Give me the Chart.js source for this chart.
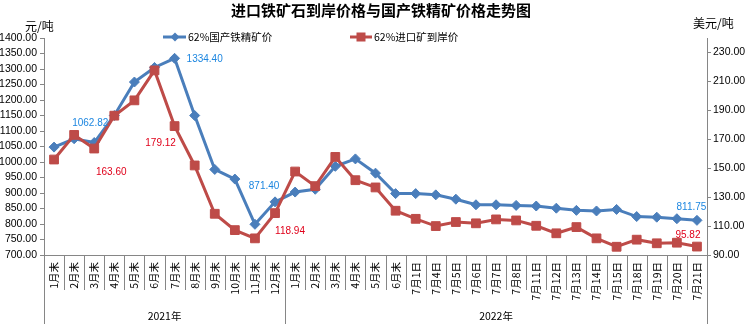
<!DOCTYPE html>
<html><head><meta charset="utf-8">
<script src="https://cdn.jsdelivr.net/npm/chart.js@4"></script>
<style>html,body{margin:0;padding:0;background:#fff}#wrap{width:748px;height:324px;position:relative}</style>
</head><body><div id="wrap"><canvas id="c" width="748" height="324"></canvas></div>
<script>
const categories = ['1月末','2月末','3月末','4月末','5月末','6月末','7月末','8月末','9月末','10月末','11月末','12月末',
  '1月末','2月末','3月末','4月末','5月末','6月末',
  '7月1日','7月4日','7月5日','7月6日','7月7日','7月8日','7月11日','7月12日','7月13日','7月14日','7月15日','7月18日','7月19日','7月20日','7月21日'];
const groupLabels = ['2021年','2022年'];
const groupSizes = [12, 21];
const domestic = [1048,1075,1062.82,1150,1258,1305,1334.40,1150,976,945,799,871.40,
  903,912,986,1010,964,898,
  898,894,880,862,862,860,858,851,844,842,847,824,822,817,811.75];
const imported = [156.0,173.0,163.60,186.3,196.9,217.6,179.12,151.9,118.5,107.2,101.5,118.94,
  147.7,137.6,157.8,141.7,136.7,120.6,
  115.0,110.0,112.8,111.9,114.6,113.9,110.2,105.0,109.3,101.5,95.7,100.6,98.1,98.5,95.82];
const leftTicks = [700,750,800,850,900,950,1000,1050,1100,1150,1200,1250,1300,1350,1400];
const rightTicks = [90,110,130,150,170,190,210,230];
const labelIdx = [2,6,11,32];
const titleText = '进口铁矿石到岸价格与国产铁精矿价格走势图';
const leftUnit = '元/吨';
const rightUnit = '美元/吨';

const BLUE = '#4A7EBB', RED = '#BE4B48', AXIS = '#868686';
const NUMFONT = '"Liberation Sans", Arial, sans-serif';
const CJK = '"Noto Sans CJK SC", sans-serif';

const decor = {
  id: 'decor',
  afterDraw(chart) {
    const ctx = chart.ctx;
    const x = chart.scales.x;
    const area = chart.chartArea;
    const n = categories.length;
    const w = (x.getPixelForValue(1) - x.getPixelForValue(0));
    const groupBounds = [0];
    let acc = 0;
    groupSizes.forEach(s => { acc += s; groupBounds.push(acc); });
    ctx.save();
    ctx.strokeStyle = AXIS; ctx.lineWidth = 1;
    for (let i = 0; i <= n; i++) {
      const bx = Math.round(x.getPixelForValue(0) - w/2 + i*w) + 0.5;
      const isGroup = groupBounds.includes(i);
      ctx.beginPath();
      ctx.moveTo(bx, area.bottom);
      ctx.lineTo(bx, isGroup ? 324 : 290);
      ctx.stroke();
    }
    ctx.fillStyle = '#000';
    ctx.font = '10.5px ' + CJK;
    ctx.textAlign = 'center'; ctx.textBaseline = 'middle';
    for (let g = 0; g < groupLabels.length; g++) {
      const a = x.getPixelForValue(0) - w/2 + groupBounds[g]*w;
      const b = x.getPixelForValue(0) - w/2 + groupBounds[g+1]*w;
      ctx.fillText(groupLabels[g], (a+b)/2, 316);
    }
    ctx.font = 'bold 15px ' + CJK;
    ctx.fillText(titleText, 381, 10);
    ctx.font = '12px ' + CJK;
    ctx.textAlign = 'left';
    ctx.fillText(leftUnit, 25, 26);
    ctx.fillText(rightUnit, 693, 23);
    ctx.lineWidth = 3;
    ctx.strokeStyle = BLUE;
    ctx.beginPath(); ctx.moveTo(163, 37); ctx.lineTo(186, 37); ctx.stroke();
    ctx.fillStyle = BLUE;
    ctx.beginPath(); ctx.moveTo(175, 32.5); ctx.lineTo(179.5, 37); ctx.lineTo(175, 41.5); ctx.lineTo(170.5, 37); ctx.closePath(); ctx.fill();
    ctx.strokeStyle = RED;
    ctx.beginPath(); ctx.moveTo(350, 37); ctx.lineTo(372, 37); ctx.stroke();
    ctx.fillStyle = RED;
    ctx.fillRect(356.5, 32.5, 9, 9);
    ctx.fillStyle = '#000';
    ctx.font = '10.5px ' + CJK;
    ctx.fillText(chart.data.datasets[0].label, 188, 37);
    ctx.fillText(chart.data.datasets[1].label, 374, 37);
    const offs = [
      {ds:0, d:{2:[-4,-19],6:[12,0.5,'left'],11:[-11,-16],32:[-5.5,-13.5]}, color:'#1C86E0'},
      {ds:1, d:{2:[17,24],6:[-14,17],11:[15,18],32:[-9,-11]}, color:'#E0001A'}
    ];
    ctx.font = '10px ' + NUMFONT;
    offs.forEach(o => {
      const meta = chart.getDatasetMeta(o.ds);
      const data = chart.data.datasets[o.ds].data;
      ctx.fillStyle = o.color;
      labelIdx.forEach(i => {
        const p = meta.data[i];
        const off = o.d[i];
        ctx.textAlign = off[2] || 'center';
        ctx.fillText(Number(data[i]).toFixed(2), p.x + off[0], p.y + off[1]);
      });
    });
    ctx.restore();
  }
};

new Chart(document.getElementById('c').getContext('2d'), {
  type: 'line',
  data: {
    labels: categories,
    datasets: [
      {label:'62%国产铁精矿价', data: domestic, yAxisID:'y', order:1,
       borderColor: BLUE, backgroundColor: BLUE, borderWidth: 3, tension: 0,
       pointStyle:'rectRot', pointRadius: 5, pointBorderWidth: 1, pointBorderColor: BLUE, pointBackgroundColor: BLUE},
      {label:'62%进口矿到岸价', data: imported, yAxisID:'y1', order:0,
       borderColor: RED, backgroundColor: RED, borderWidth: 3, tension: 0,
       pointStyle:'rect', pointRadius: 6.2, pointBorderWidth: 1, pointBorderColor: RED, pointBackgroundColor: RED}
    ]
  },
  options: {
    responsive: false, animation: false, devicePixelRatio: 1,
    layout: {padding: {top: 38, left: 0, right: 0, bottom: 0}},
    plugins: {legend: {display: false}, title: {display: false}, tooltip: {enabled: false}},
    scales: {
      x: {
        type: 'category', offset: true,
        grid: {display: false, drawTicks: false},
        border: {display: true, color: AXIS},
        ticks: {autoSkip: false, maxRotation: 90, minRotation: 90, padding: 7,
                font: {family: CJK, size: 10.5}, color: '#000'},
        afterFit(s) { s.height = 69; }
      },
      y: {
        position: 'left', min: 700, max: 1400,
        afterBuildTicks(s) { s.ticks = leftTicks.map(v => ({value: v})); },
        ticks: {autoSkip: false, callback: v => Number(v).toFixed(2), padding: 3, font: {family: NUMFONT, size: 10.5}, color: '#000'},
        grid: {drawOnChartArea: false, tickLength: 4, color: AXIS},
        border: {color: AXIS},
        afterFit(s) { s.width = 44; }
      },
      y1: {
        position: 'right', min: 90, max: 240,
        afterBuildTicks(s) { s.ticks = rightTicks.map(v => ({value: v})); },
        ticks: {autoSkip: false, callback: v => Number(v).toFixed(2), padding: 2, font: {family: NUMFONT, size: 10.5}, color: '#000'},
        grid: {drawOnChartArea: false, tickLength: 4, color: AXIS},
        border: {color: AXIS},
        afterFit(s) { s.width = 41; }
      }
    }
  },
  plugins: [decor]
});
</script>
</body></html>
